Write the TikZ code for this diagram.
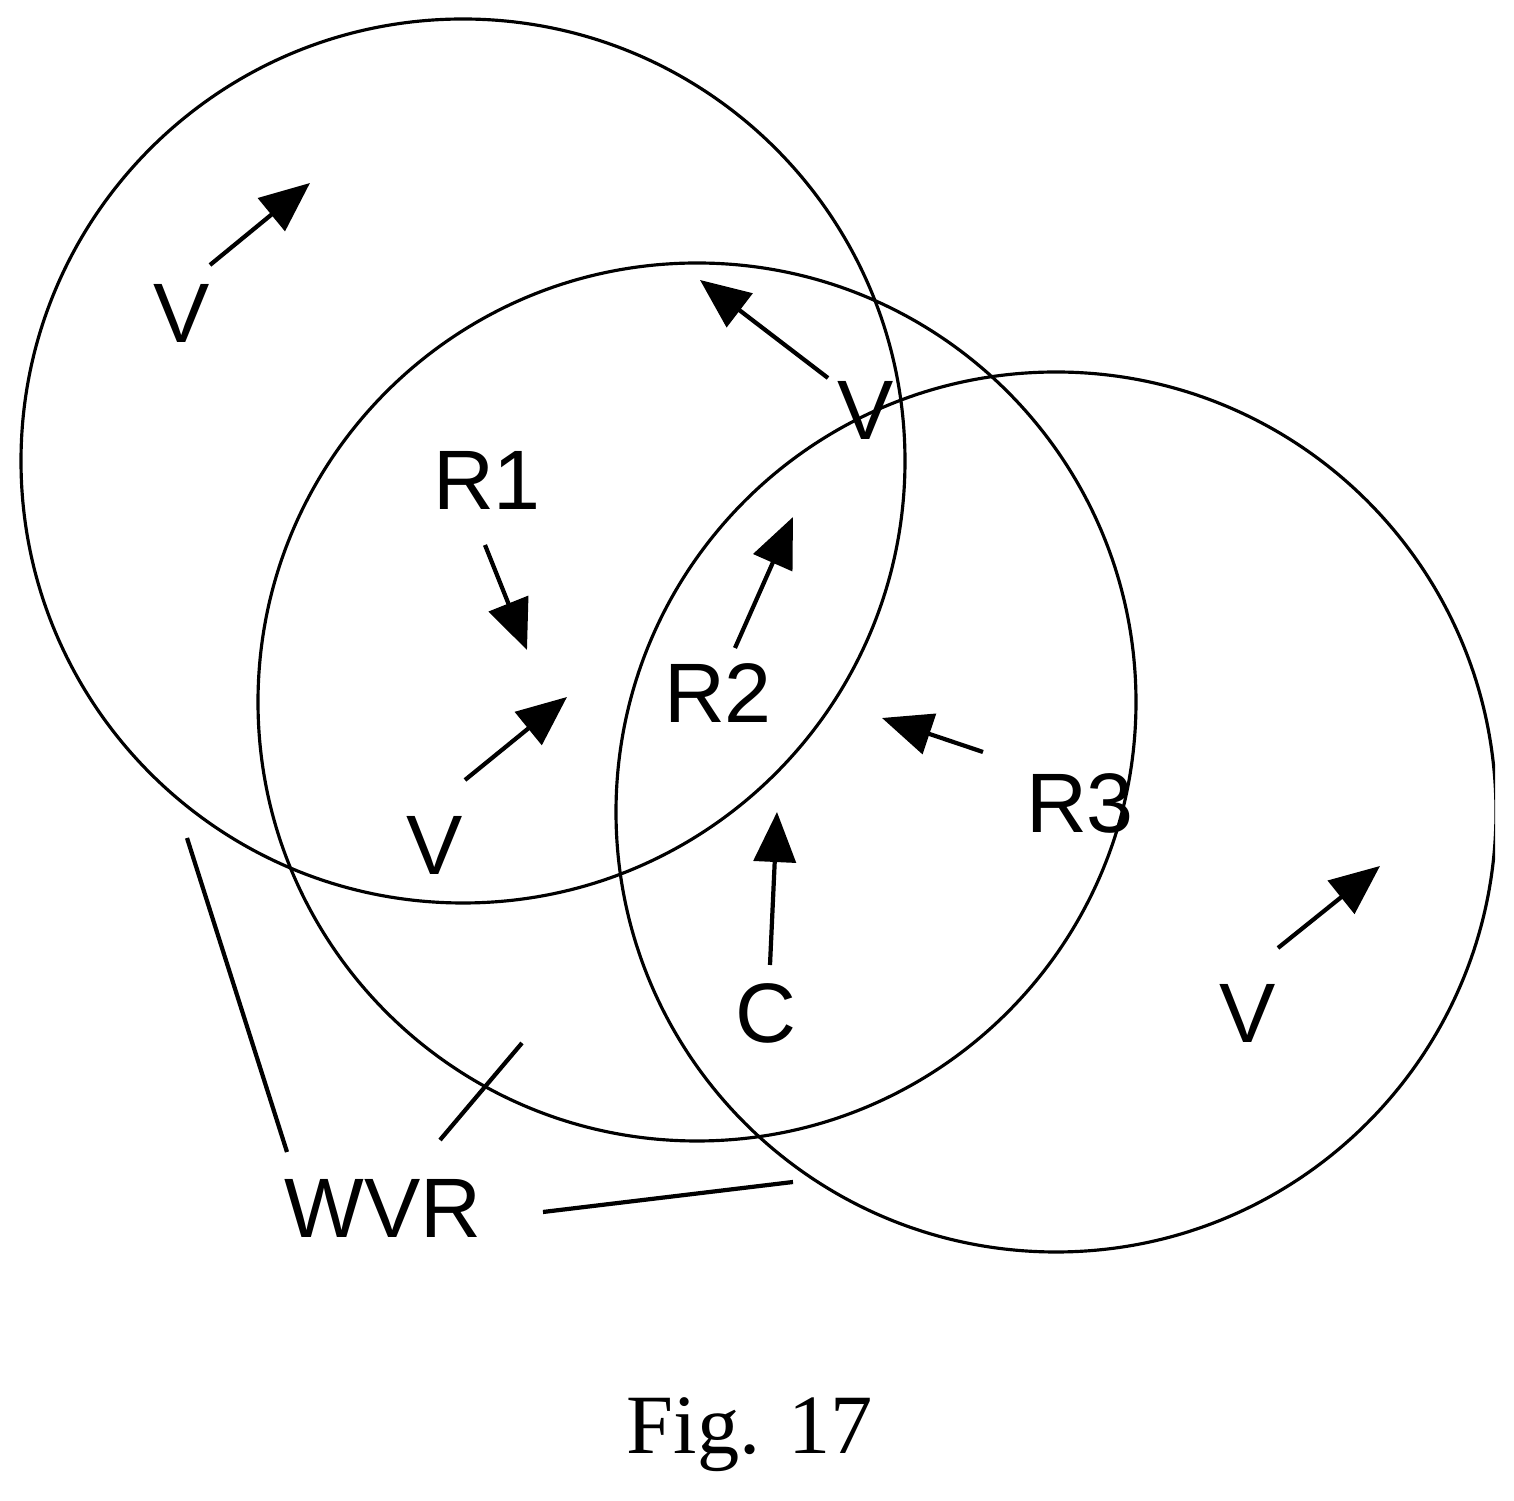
\documentclass[tikz,border=0pt]{standalone}
\usepackage{fontspec}
\setmainfont{Liberation Serif}
\setsansfont{Liberation Sans}
\usetikzlibrary{arrows.meta}
\begin{document}
\begin{tikzpicture}[x=0.01cm,y=-0.01cm,
  circ/.style={line width=0.9pt},
  arr/.style={line width=1.2pt,-{Triangle[length=0.5cm,width=0.42cm]}},
  lbl/.style={font=\sffamily\fontsize{24}{24}\selectfont,inner sep=0pt},
  ln/.style={line width=1.2pt}]
\useasboundingbox (0,0) rectangle (1514,1501);
\draw[circ] (463,461) circle[radius=442];
\draw[circ] (697,702) circle[radius=439];
\begin{scope}
\clip (0,0) rectangle (1495,1501);
\draw[circ] (1056,812) circle[radius=440];
\end{scope}
\foreach \n/\a/\b/\c/\d in {a1/210/265/310/183, a2/828/378/700/280, a3/485/545/527/650, a4/465/780/567/697, a5/735/648/793/517, a6/983/752/882/718, a7/770/965/777/812, a8/1278/948/1380/866}{
  \coordinate (\n s) at (\a,\b); \coordinate (\n e) at (\c,\d);
  \draw[arr] (\n s) -- (\n e);
}
\node[lbl] (v1) at (182,313) {V};
\node[lbl] (v2) at (866,410) {V};
\node[lbl] (r1) at (487,480) {R1};
\node[lbl] (r2) at (718,693) {R2};
\node[lbl] (r3) at (1080,803) {R3};
\node[lbl] (v3) at (435,845) {V};
\node[lbl] (c) at (766,1013) {C};
\node[lbl] (v4) at (1248,1013) {V};
\node[lbl] (wvr) at (383,1208) {WVR};
\coordinate (w1a) at (187,838); \coordinate (w1b) at (287,1152);
\coordinate (w2a) at (522,1043); \coordinate (w2b) at (440,1140);
\coordinate (w3a) at (543,1212); \coordinate (w3b) at (793,1182);
\draw[ln] (w1a) -- (w1b);
\draw[ln] (w2a) -- (w2b);
\draw[ln] (w3a) -- (w3b);
\node[font=\fontsize{24}{24}\selectfont] (fig) at (750,1435) {Fig. 17};
\end{tikzpicture}
\end{document}
